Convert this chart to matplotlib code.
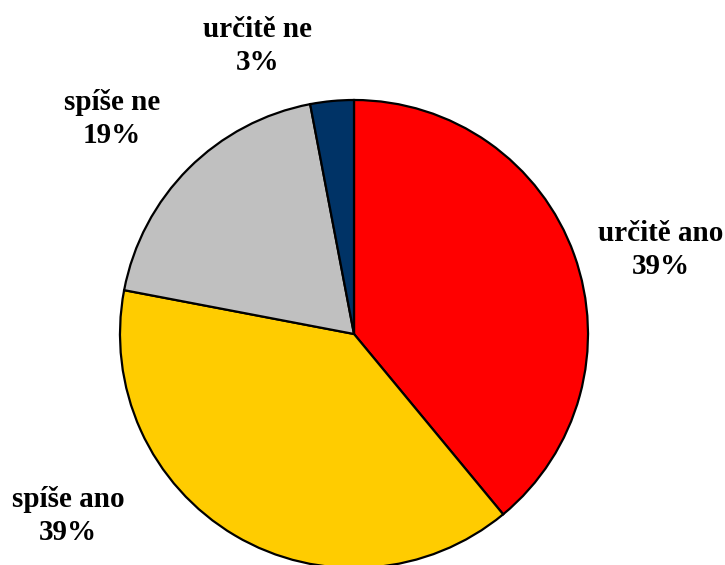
import matplotlib.pyplot as plt

categories = ['určitě ano', 'spíše ano', 'spíše ne', 'určitě ne']
values = [39, 39, 19, 3]
colors = ['#FF0000', '#FFCC00', '#C0C0C0', '#003366']
# label centres in pixels (x, y from top)
label_pos = [(661, 250), (68, 516), (112, 119), (258, 46)]

W, H = 725, 565
fig = plt.figure(figsize=(W / 100, H / 100), dpi=100)
ax = fig.add_axes([0, 0, 1, 1])

ax.pie(values, colors=colors, startangle=90, counterclock=False,
       center=(354, H - 334), radius=234, frame=True,
       wedgeprops=dict(edgecolor='black', linewidth=1.6))
ax.set_xlim(0, W)
ax.set_ylim(0, H)
ax.set_aspect('equal')
ax.axis('off')

for cat, v, (x, y) in zip(categories, values, label_pos):
    ax.text(x, H - y, f'{cat}\n{v}%', ha='center', va='center',
            fontsize=21, fontweight='bold', family='Liberation Serif',
            linespacing=1.3)

fig.savefig('out.png', dpi=100)
